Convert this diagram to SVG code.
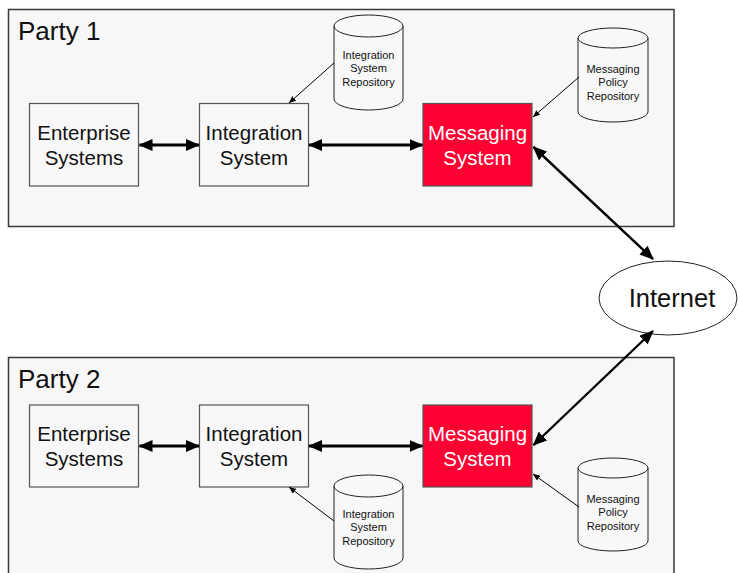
<svg xmlns="http://www.w3.org/2000/svg" width="738" height="573" viewBox="0 0 738 573">
  <style>
    .party { fill: #f7f7f7; stroke: #3a3a3a; stroke-width: 1.5; }
    .party-label { font-family: "Liberation Sans", Arial, sans-serif; font-size: 26px; fill: #111; }
    .box { fill: #f8f8f8; stroke: #555; stroke-width: 1.2; }
    .msg { fill: #ff0033; stroke: #555; stroke-width: 1.2; }
    .label { font-family: "Liberation Sans", Arial, sans-serif; font-size: 20.5px; fill: #111; text-anchor: middle; }
    .label-w { font-family: "Liberation Sans", Arial, sans-serif; font-size: 20.5px; fill: #fff; text-anchor: middle; }
    .cyl { fill: #f8f8f8; stroke: #222; stroke-width: 1; }
    .small { font-family: "Liberation Sans", Arial, sans-serif; font-size: 11px; fill: #111; text-anchor: middle; }
    .thick { stroke: #000; stroke-width: 3.2; fill: none; marker-start: url(#headBig); marker-end: url(#headBig); }
    .net { stroke: #000; stroke-width: 2.4; fill: none; marker-start: url(#headBig); marker-end: url(#headBig); }
    .thin { stroke: #000; stroke-width: 1; fill: none; marker-end: url(#headSmall); }
    .cloud { fill: #fff; stroke: #222; stroke-width: 1; }
    .net-label { font-family: "Liberation Sans", Arial, sans-serif; font-size: 25.5px; fill: #111; text-anchor: middle; }
  </style>
  <defs>
    <marker id="headBig" viewBox="0 0 14 12" refX="13" refY="6" markerWidth="14" markerHeight="12" markerUnits="userSpaceOnUse" orient="auto-start-reverse">
      <path d="M0,0 L14,6 L0,12 Z" fill="#000"/>
    </marker>
    <marker id="headSmall" viewBox="0 0 7 6" refX="7" refY="3" markerWidth="7" markerHeight="6" markerUnits="userSpaceOnUse" orient="auto">
      <path d="M0,0 L7,3 L0,6 Z" fill="#000"/>
    </marker>
  </defs>

  <!-- Party containers -->
  <g id="party1">
    <rect class="party" x="8.5" y="9.5" width="665.5" height="217"/>
    <text class="party-label" x="18" y="40">Party 1</text>
  </g>
  <g id="party2">
    <rect class="party" x="8.5" y="357.5" width="665.5" height="230"/>
    <text class="party-label" x="18" y="388">Party 2</text>
  </g>

  <!-- Party 1 nodes -->
  <g id="p1-enterprise">
    <rect class="box" x="29.5" y="103.5" width="109" height="82.5"/>
    <text class="label" x="84" y="140">Enterprise</text>
    <text class="label" x="84" y="165">Systems</text>
  </g>
  <g id="p1-integration">
    <rect class="box" x="199.5" y="103.5" width="109" height="82.5"/>
    <text class="label" x="254" y="140">Integration</text>
    <text class="label" x="254" y="165">System</text>
  </g>
  <g id="p1-messaging">
    <rect class="msg" x="423" y="103.5" width="109" height="82.5"/>
    <text class="label-w" x="477.5" y="140">Messaging</text>
    <text class="label-w" x="477.5" y="165">System</text>
  </g>
  <g id="p1-int-repo">
    <path class="cyl" d="M334,26 L334,99 A34.5,11 0 0 0 403,99 L403,26 A34.5,11 0 0 0 334,26 Z"/>
    <path class="cyl" d="M334,26 A34.5,11 0 0 0 403,26" fill="none"/>
    <text class="small" x="368.5" y="59">Integration</text>
    <text class="small" x="368.5" y="72">System</text>
    <text class="small" x="368.5" y="86">Repository</text>
  </g>
  <g id="p1-policy-repo">
    <path class="cyl" d="M578,38 L578,112 A35,10 0 0 0 648,112 L648,38 A35,10 0 0 0 578,38 Z"/>
    <path class="cyl" d="M578,38 A35,10 0 0 0 648,38" fill="none"/>
    <text class="small" x="613" y="73">Messaging</text>
    <text class="small" x="613" y="86">Policy</text>
    <text class="small" x="613" y="100">Repository</text>
  </g>

  <!-- Internet -->
  <g id="internet">
    <ellipse class="cloud" cx="668" cy="298" rx="69" ry="37"/>
    <text class="net-label" x="672" y="307">Internet</text>
  </g>

  <!-- Party 2 nodes -->
  <g id="p2-enterprise">
    <rect class="box" x="29.5" y="405" width="109" height="82"/>
    <text class="label" x="84" y="441">Enterprise</text>
    <text class="label" x="84" y="466">Systems</text>
  </g>
  <g id="p2-integration">
    <rect class="box" x="199.5" y="405" width="109" height="82"/>
    <text class="label" x="254" y="441">Integration</text>
    <text class="label" x="254" y="466">System</text>
  </g>
  <g id="p2-messaging">
    <rect class="msg" x="423" y="405" width="109" height="82"/>
    <text class="label-w" x="477.5" y="441">Messaging</text>
    <text class="label-w" x="477.5" y="466">System</text>
  </g>
  <g id="p2-int-repo">
    <path class="cyl" d="M334,486 L334,558 A34.5,11 0 0 0 403,558 L403,486 A34.5,11 0 0 0 334,486 Z"/>
    <path class="cyl" d="M334,486 A34.5,11 0 0 0 403,486" fill="none"/>
    <text class="small" x="368.5" y="518">Integration</text>
    <text class="small" x="368.5" y="531">System</text>
    <text class="small" x="368.5" y="545">Repository</text>
  </g>
  <g id="p2-policy-repo">
    <path class="cyl" d="M578,468 L578,541 A35,10 0 0 0 648,541 L648,468 A35,10 0 0 0 578,468 Z"/>
    <path class="cyl" d="M578,468 A35,10 0 0 0 648,468" fill="none"/>
    <text class="small" x="613" y="503">Messaging</text>
    <text class="small" x="613" y="516">Policy</text>
    <text class="small" x="613" y="530">Repository</text>
  </g>

  <!-- Connectors -->
  <g id="connectors">
    <path class="thick" d="M139.5,145 L199,145"/>
    <path class="thick" d="M309,145 L422.5,145"/>
    <path class="thick" d="M139.5,446 L199,446"/>
    <path class="thick" d="M309,446 L422.5,446"/>
    <path class="net" d="M533.5,147 L653,259"/>
    <path class="net" d="M653,331 L533.5,445"/>
    <path class="thin" d="M334,63 L289,103"/>
    <path class="thin" d="M579,77 L533,117"/>
    <path class="thin" d="M334,521 L289,487"/>
    <path class="thin" d="M579,507 L533,474"/>
  </g>
</svg>
